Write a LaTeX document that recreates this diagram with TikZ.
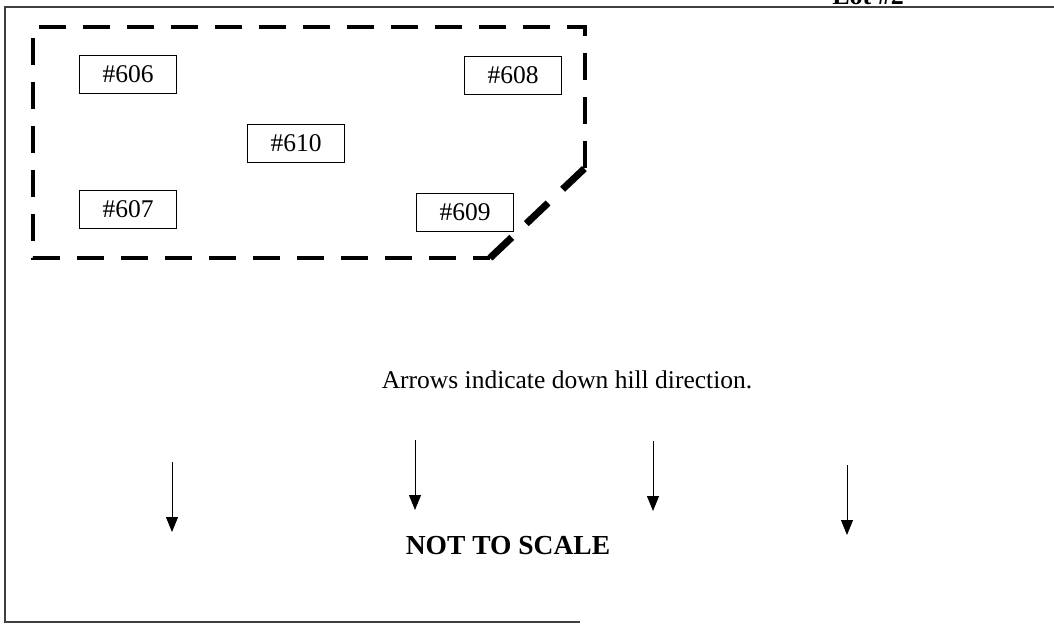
\documentclass[tikz,border=0pt]{standalone}
\usepackage{fontspec}
\setmainfont{Liberation Serif}
\usetikzlibrary{arrows.meta}

\begin{document}
\begin{tikzpicture}[
    x=1pt, y=-1pt,
    font=\fontsize{25.5}{30}\selectfont,
    frame/.style={draw=black!75, line width=1.3pt},
    lotline/.style={draw, line width=4.5pt, dash pattern=on 27pt off 17pt},
    cornerline/.style={draw, line width=7pt, dash pattern=on 30pt off 20pt},
    site/.style={draw, thin, rectangle, minimum width=97pt, minimum height=38pt, inner sep=0pt},
    slope/.style={-{Triangle[length=15pt,width=12pt]}, draw, line width=1pt},
]
\useasboundingbox (0,0) rectangle (1054,625);
\clip (0,0) rectangle (1054,625);

% Page frame
\draw[frame] (1054,7) -- (5,7) -- (5,622) -- (580,622);
\node[font=\bfseries\fontsize{26}{30}\selectfont, anchor=base] (lot) at (868,4) {Lot \#2};

% Lot boundary
\coordinate (b1) at (33,27);
\coordinate (b2) at (585,27);
\coordinate (b3) at (585,168);
\coordinate (b4) at (490,258);
\coordinate (b5) at (33,258);
\draw[lotline] (b3) -- (b2) -- (b1) -- (b5) -- (b4);
\draw[cornerline] (b4) -- (b3);

% Sites
\node[site] (s606) at (128,74)  {\#606};
\node[site] (s608) at (513,75)  {\#608};
\node[site] (s610) at (296,143) {\#610};
\node[site] (s607) at (128,209) {\#607};
\node[site] (s609) at (465,212) {\#609};

% Notes
\node (note) at (567,380) {Arrows indicate down hill direction.};
\node[font=\bfseries\fontsize{27.5}{32}\selectfont] (nts) at (508,546) {NOT TO SCALE};

% Down hill arrows
\foreach \n/\x/\ya/\yb in {1/172/462/532, 2/415/440/510, 3/653/441/511, 4/847/465/535} {
  \coordinate (t\n) at (\x,\ya);
  \coordinate (h\n) at (\x,\yb);
  \draw[slope] (t\n) -- (h\n);
}
\end{tikzpicture}
\end{document}
